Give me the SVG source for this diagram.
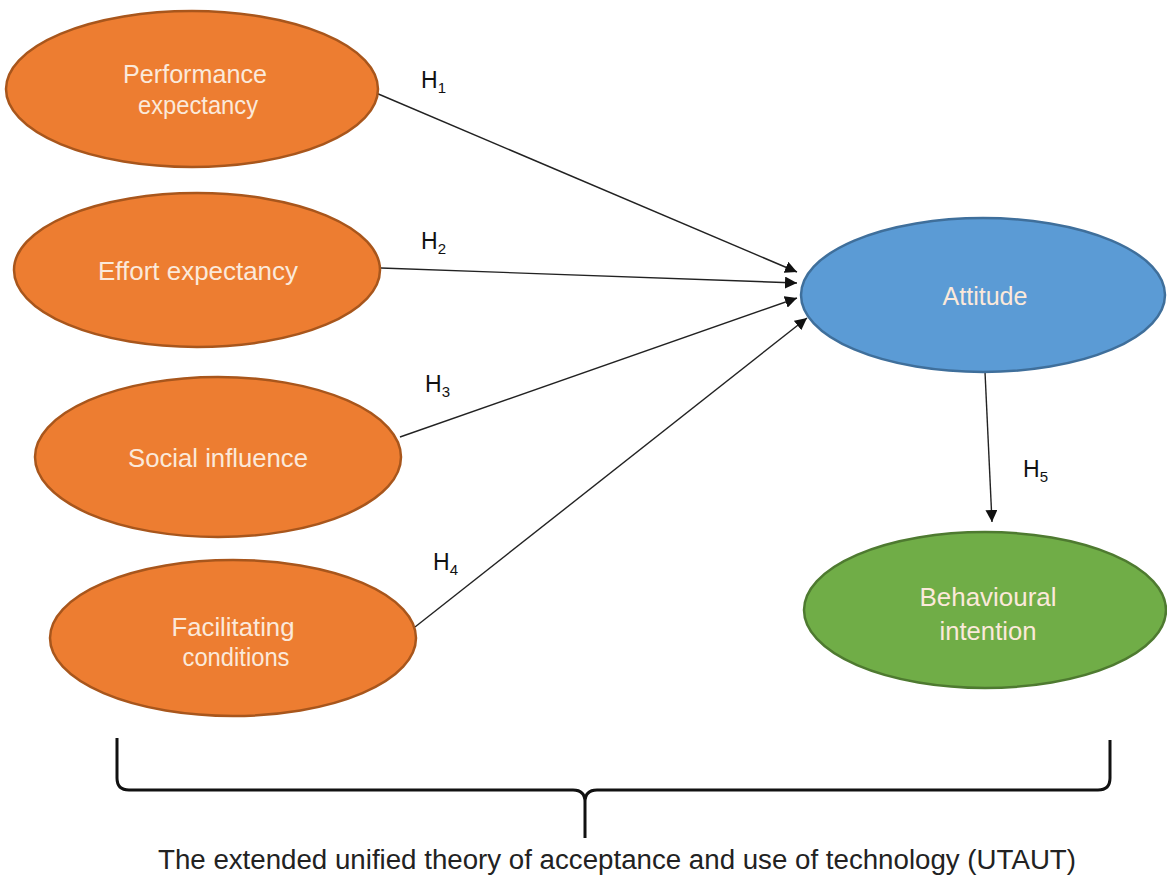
<svg xmlns="http://www.w3.org/2000/svg" width="1167" height="878" viewBox="0 0 1167 878">
  <style>
    .lbl { font-family: "Liberation Sans", Arial, sans-serif; font-size: 25px; fill: #fbe9da; text-anchor: middle; }
    .orange { fill: #ED7D31; stroke: #A8561C; stroke-width: 2.5; }
    .blue { fill: #5B9BD5; stroke: #3F6F9B; stroke-width: 2.5; }
    .green { fill: #70AD47; stroke: #4E7A30; stroke-width: 2.5; }
    .conn { stroke: #222; stroke-width: 1.4; fill: none; marker-end: url(#arrow); }
    .h { font-family: "Liberation Sans", Arial, sans-serif; font-size: 23px; fill: #111; }
    .h tspan.sub { font-size: 15px; }
    .brace { stroke: #111; stroke-width: 3; fill: none; }
    .caption { font-family: "Liberation Sans", Arial, sans-serif; font-size: 27px; fill: #222; text-anchor: middle; }
  </style>
  <defs>
    <marker id="arrow" viewBox="0 0 10 10" refX="10" refY="5" markerWidth="12" markerHeight="12" markerUnits="userSpaceOnUse" orient="auto">
      <path d="M0,0 L10,5 L0,10 Z" fill="#111"/>
    </marker>
  </defs>
  <rect width="1167" height="878" fill="#ffffff"/>

  <g id="connectors">
    <line class="conn" x1="376" y1="93" x2="797" y2="272"/>
    <line class="conn" x1="381" y1="268" x2="797" y2="283"/>
    <line class="conn" x1="400" y1="437" x2="797" y2="298"/>
    <line class="conn" x1="415" y1="627" x2="807" y2="318"/>
    <line class="conn" x1="985" y1="372" x2="992" y2="522"/>
  </g>

  <g id="hyp-labels">
    <text class="h" x="421" y="88">H<tspan class="sub" dy="5">1</tspan></text>
    <text class="h" x="421" y="249">H<tspan class="sub" dy="5">2</tspan></text>
    <text class="h" x="425" y="392">H<tspan class="sub" dy="5">3</tspan></text>
    <text class="h" x="433" y="570">H<tspan class="sub" dy="5">4</tspan></text>
    <text class="h" x="1023" y="477">H<tspan class="sub" dy="5">5</tspan></text>
  </g>

  <g id="performance-expectancy">
    <ellipse class="orange" cx="192" cy="89" rx="186" ry="78"/>
    <text class="lbl" x="195" y="83" textLength="144" lengthAdjust="spacingAndGlyphs">Performance</text>
    <text class="lbl" x="198" y="114" textLength="120" lengthAdjust="spacingAndGlyphs">expectancy</text>
  </g>
  <g id="effort-expectancy">
    <ellipse class="orange" cx="197" cy="270" rx="183" ry="77"/>
    <text class="lbl" x="198" y="280" textLength="200" lengthAdjust="spacingAndGlyphs">Effort expectancy</text>
  </g>
  <g id="social-influence">
    <ellipse class="orange" cx="218" cy="457" rx="183" ry="80"/>
    <text class="lbl" x="218" y="467" textLength="180" lengthAdjust="spacingAndGlyphs">Social influence</text>
  </g>
  <g id="facilitating-conditions">
    <ellipse class="orange" cx="233" cy="638" rx="183" ry="78"/>
    <text class="lbl" x="233" y="636" textLength="123" lengthAdjust="spacingAndGlyphs">Facilitating</text>
    <text class="lbl" x="236" y="666" textLength="107" lengthAdjust="spacingAndGlyphs">conditions</text>
  </g>
  <g id="attitude">
    <ellipse class="blue" cx="983" cy="295" rx="182" ry="77"/>
    <text class="lbl" x="985" y="305" textLength="85" lengthAdjust="spacingAndGlyphs">Attitude</text>
  </g>
  <g id="behavioural-intention">
    <ellipse class="green" cx="985" cy="610" rx="181" ry="78"/>
    <text class="lbl" x="988" y="606" textLength="137" lengthAdjust="spacingAndGlyphs">Behavioural</text>
    <text class="lbl" x="988" y="640" textLength="97" lengthAdjust="spacingAndGlyphs">intention</text>
  </g>

  <g id="utaut-brace">
    <path class="brace" d="M117,738 L117,778 Q117,790 129,790 L573,790 Q585,790 585,802 L585,838 M585,802 Q585,790 597,790 L1098,790 Q1110,790 1110,778 L1110,740"/>
    <text class="caption" x="617" y="869" textLength="918" lengthAdjust="spacingAndGlyphs">The extended unified theory of acceptance and use of technology (UTAUT)</text>
  </g>
</svg>
